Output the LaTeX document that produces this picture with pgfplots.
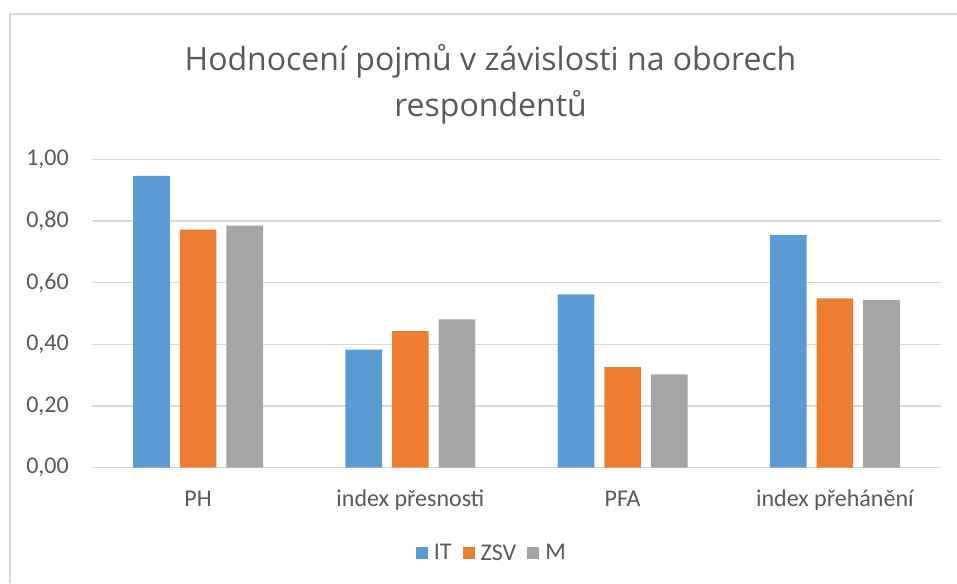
\documentclass[border=0pt]{standalone}
\usepackage{pgfplots}
\pgfplotsset{compat=1.18}
\usepackage{fontspec}
\setmainfont{Carlito}
\newfontfamily\titlefont{Open Sans}
\definecolor{cIT}{HTML}{5B9BD5}
\definecolor{cZSV}{HTML}{ED7D31}
\definecolor{cM}{HTML}{A5A5A5}
\definecolor{txt}{HTML}{595959}
\definecolor{gridc}{HTML}{D9D9D9}
\begin{document}
\begin{tikzpicture}
\useasboundingbox (0,0) rectangle (957pt,583pt);
\draw[gridc, line width=1.2pt] (10pt,0pt) -- (10pt,569pt) -- (957pt,569pt);
\node[anchor=base, text=txt, font=\titlefont\fontsize{32}{38}\selectfont, inner sep=0pt] at (490.5pt,512pt) {Hodnocení pojmů v závislosti na oborech};
\node[anchor=base, text=txt, font=\titlefont\fontsize{32}{38}\selectfont, inner sep=0pt] at (490.5pt,466pt) {respondentů};
\begin{axis}[
  at={(92pt,115.3pt)}, anchor=south west,
  scale only axis, width=849pt, height=308.4pt,
  xmin=-0.5, xmax=3.5, ymin=0, ymax=1,
  ybar=10pt, bar width=36.7pt,
  axis line style={draw=none},
  major tick length=0pt,
  ytick={0,0.2,0.4,0.6,0.8,1},
  ymajorgrids, grid style={gridc, line width=1.2pt},
  xtick={0,1,2,3},
  xticklabels={PH,index přesnosti,PFA,index přehánění},
  /pgf/number format/assume math mode=true,
  yticklabel={\pgfmathprintnumber[fixed,fixed zerofill,precision=2,use comma]{\tick}},
  ticklabel style={font=\fontsize{24}{28}\selectfont, text=txt},
  yticklabel style={anchor=east, inner sep=0pt, xshift=-23pt},
  xticklabel style={anchor=base, inner sep=0pt, yshift=-39pt},
  legend style={at={(0.471,-0.2766)}, anchor=center, draw=none, fill=none,
    legend columns=-1, font=\fontsize{24}{28}\selectfont, text=txt,
    /tikz/every even column/.append style={column sep=9pt}},
  legend image code/.code={\fill[#1, draw=none] (0pt,-6pt) rectangle (12pt,6pt); \path (16pt,0pt);},
]
\addplot[fill=cIT, draw=none] coordinates {(0,0.946) (1,0.383) (2,0.562) (3,0.755)};
\addplot[fill=cZSV, draw=none] coordinates {(0,0.772) (1,0.443) (2,0.326) (3,0.549)};
\addplot[fill=cM, draw=none] coordinates {(0,0.785) (1,0.481) (2,0.303) (3,0.544)};
\legend{IT,ZSV,M}
\end{axis}
\end{tikzpicture}
\end{document}
